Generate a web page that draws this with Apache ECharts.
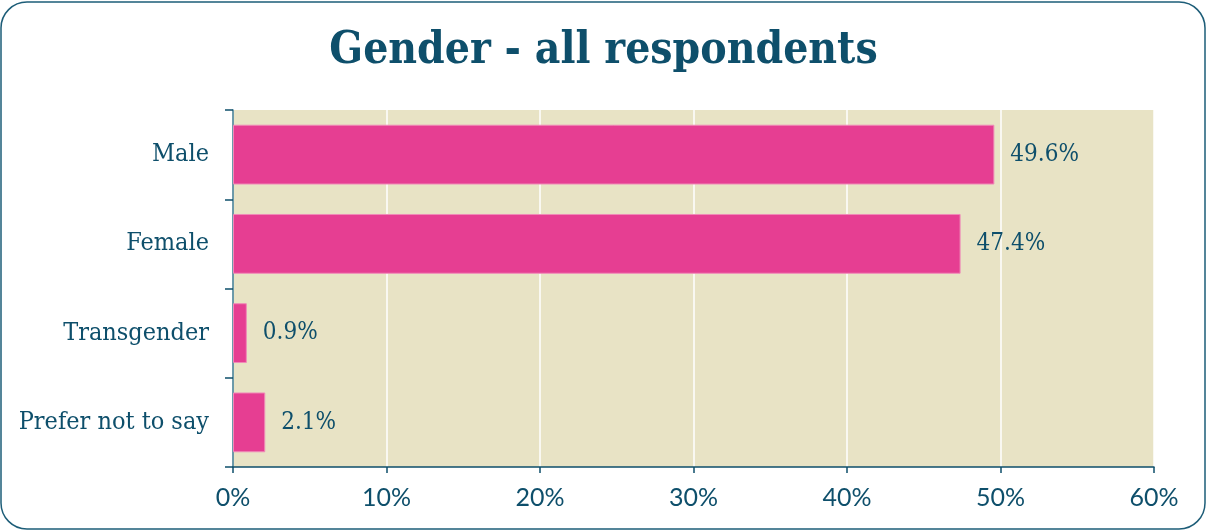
<!DOCTYPE html>
<html><head><meta charset="utf-8">
<script src="https://cdn.jsdelivr.net/npm/echarts@6/dist/echarts.min.js"></script>
<style>html,body{margin:0;padding:0;background:#fff}#c{width:1207px;height:531px}</style>
</head><body><div id="c"></div>
<script>
const categories = ['Male', 'Female', 'Transgender', 'Prefer not to say'];
const values = [49.6, 47.4, 0.9, 2.1];
const xTicks = [0, 10, 20, 30, 40, 50, 60];
const titleText = 'Gender - all respondents';

const textColor = '#0e4f6b';
const serif = '"DejaVu Serif Condensed", "DejaVu Serif", serif';
const chart = echarts.init(document.getElementById('c'), null, {renderer: 'canvas'});
chart.setOption({
  animation: false,
  backgroundColor: '#fff',
  title: {
    text: titleText, left: 'center', top: 25,
    textStyle: {fontFamily: serif, fontWeight: 'bold', fontSize: 44, color: textColor}
  },
  graphic: [{
    type: 'rect', shape: {x: 1, y: 2, width: 1204, height: 527, r: 26},
    style: {fill: 'none', stroke: '#1d5d78', lineWidth: 1.5}, silent: true, z: 100
  }],
  grid: {left: 233, right: 53, top: 110, bottom: 64, show: true, backgroundColor: '#e8e3c5', borderWidth: 0},
  xAxis: {
    type: 'value', min: xTicks[0], max: xTicks[xTicks.length - 1], interval: 10,
    axisLine: {show: true, lineStyle: {color: '#0e4f6b', width: 1.5}},
    axisTick: {show: true, length: 6, lineStyle: {color: '#0e4f6b', width: 1.5}},
    splitLine: {show: true, lineStyle: {color: '#ffffff', width: 1.5}},
    axisLabel: {formatter: v => v + '%', color: textColor, fontFamily: 'Lato', fontSize: 25, margin: 18}
  },
  yAxis: {
    type: 'category', data: categories, inverse: true,
    axisLine: {show: true, lineStyle: {color: '#3d7a8f', width: 1.5}},
    axisTick: {show: true, length: 8, lineStyle: {color: '#0e4f6b', width: 1.5}},
    axisLabel: {color: textColor, fontFamily: serif, fontSize: 25, margin: 24, padding: [4, 0, 0, 0]}
  },
  series: [{
    type: 'bar', data: values, barWidth: '67%',
    itemStyle: {color: '#e63e92', borderColor: '#f08ab8', borderWidth: 1},
    label: {show: true, position: 'right', distance: 16, formatter: p => p.value + '%',
      color: textColor, fontFamily: serif, fontSize: 24, padding: [4, 0, 0, 0]}
  }]
});
</script></body></html>
